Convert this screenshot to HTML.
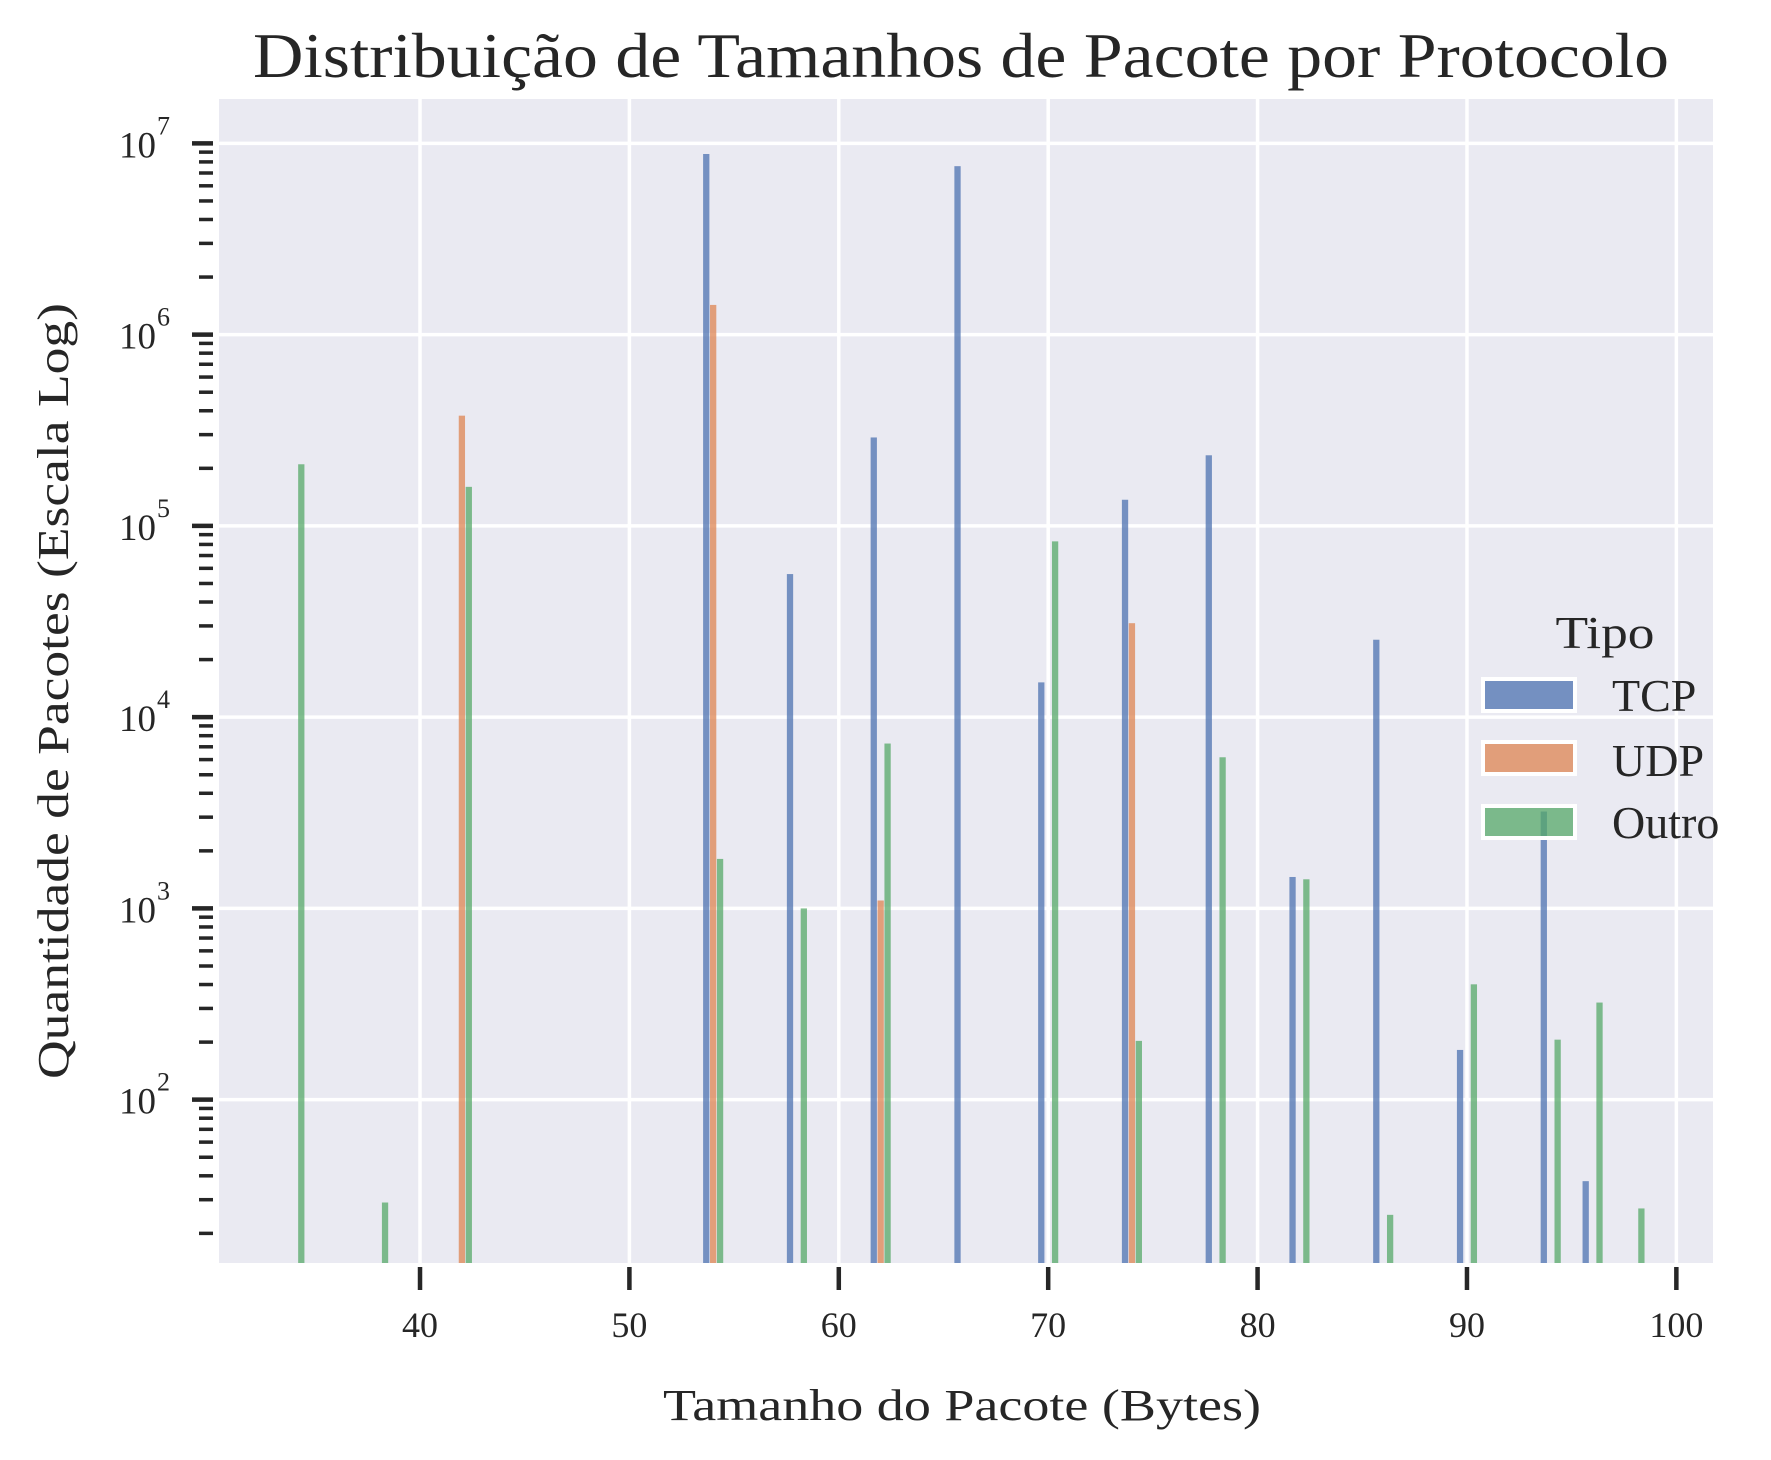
<!DOCTYPE html>
<html><head><meta charset="utf-8"><style>
html,body{margin:0;padding:0;background:#fff}
svg{display:block}
text{font-family:"Liberation Serif",serif;fill:#262626}
</style></head><body>
<svg id="chart" width="1771" height="1460" viewBox="0 0 1771 1460" xmlns="http://www.w3.org/2000/svg">
<rect x="219" y="99" width="1494" height="1164" fill="#eaeaf2"/>
<g id="grid"></g>
<g id="bars"></g>
<g id="axes"></g>
<text x="961" y="77" font-size="64" text-anchor="middle" textLength="1416" lengthAdjust="spacingAndGlyphs">Distribuição de Tamanhos de Pacote por Protocolo</text>
<text x="962" y="1420" font-size="44" text-anchor="middle" textLength="598" lengthAdjust="spacingAndGlyphs">Tamanho do Pacote (Bytes)</text>
<text transform="translate(68,691) rotate(-90)" x="0" y="0" font-size="44" text-anchor="middle" textLength="776" lengthAdjust="spacingAndGlyphs">Quantidade de Pacotes (Escala Log)</text>
<g id="legend">
<text x="1605" y="648" font-size="46" text-anchor="middle" textLength="99" lengthAdjust="spacingAndGlyphs">Tipo</text>
</g>
</svg>
<script>
const categories = [34, 38, 42, 54, 58, 62, 66, 70, 74, 78, 82, 86, 90, 94, 96, 98];
const tcpValues  = [0, 0, 0, 8.8e6, 5.6e4, 2.9e5, 7.6e6, 1.52e4, 1.37e5, 2.34e5, 1460, 2.54e4, 182, 3210, 37.5, 0];
const udpValues  = [0, 0, 3.77e5, 1.43e6, 0, 1100, 0, 0, 3.1e4, 0, 0, 0, 0, 0, 0, 0];
const outroValues= [2.1e5, 29, 1.6e5, 1815, 1000, 7280, 0, 8.3e4, 203, 6170, 1420, 25, 401, 206, 322, 27];
const seriesNames = ["TCP", "UDP", "Outro"];
const xTicks = [40, 50, 60, 70, 80, 90, 100];
const yDecades = [2, 3, 4, 5, 6, 7];

const NS = "http://www.w3.org/2000/svg";
const L = 219, R = 1713, T = 99, B = 1263;
const xMin = 30.4, xMax = 101.75;
const yMinLog = Math.log10(14.0), yMaxLog = 7.232;
function xs(v){ return L + (v - xMin) / (xMax - xMin) * (R - L); }
function ys(v){ return B - (Math.log10(v) - yMinLog) / (yMaxLog - yMinLog) * (B - T); }
function mk(tag, attrs, parent){ const e = document.createElementNS(NS, tag); for (const k in attrs) e.setAttribute(k, attrs[k]); parent.appendChild(e); return e; }

const grid = document.getElementById('grid');
const axes = document.getElementById('axes');
const bars = document.getElementById('bars');

xTicks.forEach(t => {
  const x = xs(t);
  const g = mk('line', {x1:x, x2:x, y1:T, y2:B, stroke:'#fff', 'stroke-width':3.5}, grid);
  
  
  const tk = mk('line', {x1:x, x2:x, y1:B+4, y2:B+27, stroke:'#262626', 'stroke-width':4.5}, axes);
  
  
  const lb = mk('text', {x:x, y:1337, 'font-size':36, 'text-anchor':'middle'}, axes);
  lb.textContent = String(t);
  
  
});

yDecades.forEach(d => {
  const y = ys(Math.pow(10, d));
  const g = mk('line', {x1:L, x2:R, y1:y, y2:y, stroke:'#fff', 'stroke-width':3.5}, grid);
  
  
  const tk = mk('line', {x1:192, x2:213, y1:y, y2:y, stroke:'#262626', 'stroke-width':4.5}, axes);
  
  
  const lb = mk('text', {x:156, y:y+14, 'font-size':37, 'text-anchor':'end'}, axes);
  lb.textContent = '10';
  
  
  const sup = mk('text', {x:157, y:y-9, 'font-size':26}, axes);
  sup.textContent = String(d);
  
  
});
for (let d = 1; d <= 7; d++) {
  for (let m = 2; m <= 9; m++) {
    const v = m * Math.pow(10, d);
    const lv = Math.log10(v);
    if (lv < yMinLog || lv > yMaxLog) continue;
    const y = ys(v);
    const tk = mk('line', {x1:199, x2:213, y1:y, y2:y, stroke:'#262626', 'stroke-width':3.5}, axes);
    
    
  }
}

const seriesData = [tcpValues, udpValues, outroValues];
const colors = ['rgba(76,114,176,0.75)', 'rgba(221,132,82,0.75)', 'rgba(85,168,104,0.75)'];
const offsets = [-0.33, 0, 0.33];
const bw = 0.3;
seriesData.forEach((vals, si) => {
  vals.forEach((v, i) => {
    if (!v || v <= 0) return;
    const c = categories[i] + offsets[si];
    const x0 = xs(c - bw/2), x1 = xs(c + bw/2);
    const y = ys(v);
    const r = mk('rect', {x:x0, y:y, width:x1-x0, height:B-y, fill:colors[si]}, bars);
    
    
  });
});

const legend = document.getElementById('legend');
const legY = [677, 740, 804];
const legBase = [711, 776, 838];
seriesNames.forEach((n, i) => {
  const p = mk('rect', {x:1483, y:legY[i]+2, width:92, height:32, fill:colors[i], stroke:'#fff', 'stroke-width':4}, legend);
  
  
  const t = mk('text', {x:1612, y:legBase[i], 'font-size':46}, legend);
  t.textContent = n;
  
  
});
</script>
</body></html>
